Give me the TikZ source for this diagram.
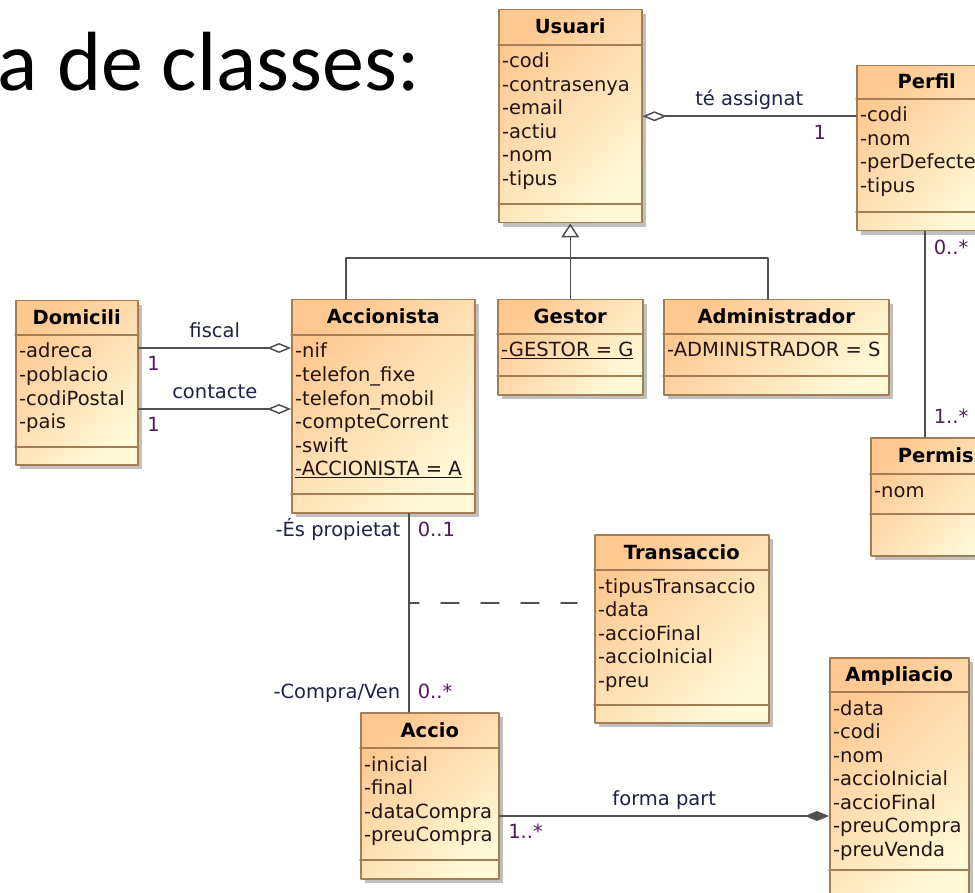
\documentclass[tikz,border=0pt]{standalone}
\usepackage{fontspec}
\setmainfont{DejaVu Sans}
\newfontfamily\slidefont{Carlito}
\usepackage{tikz}
\usetikzlibrary{arrows.meta, calc, shadows}
\definecolor{classorange}{RGB}{255,200,145}
\definecolor{classcream}{RGB}{255,249,215}
\definecolor{classbrown}{RGB}{165,125,85}
\definecolor{linegray}{RGB}{80,80,80}
\definecolor{labelnavy}{RGB}{30,35,70}
\definecolor{multpurple}{RGB}{85,25,95}
\definecolor{attrdark}{RGB}{35,20,20}

\tikzset{
  classbox/.style={anchor=north west, draw=classbrown, line width=1.5pt,
    top color=classorange, bottom color=classcream, shading angle=45,
    drop shadow={shadow xshift=4pt, shadow yshift=-4pt, fill=black!25, opacity=1}},
  classsep/.style={draw=classbrown, line width=1.5pt},
  classname/.style={anchor=base, inner sep=0pt, font=\fontsize{19.5}{23.5}\selectfont\bfseries, text=black},
  classattr/.style={anchor=base west, inner sep=0pt, font=\fontsize{19.5}{23.5}\selectfont, text=attrdark},
  assoc/.style={draw=linegray, line width=1.5pt},
  rolelabel/.style={font=\fontsize{19.5}{23.5}\selectfont, text=labelnavy, inner sep=3pt, text height=14pt, text depth=5pt},
  multlabel/.style={font=\fontsize{19.5}{23.5}\selectfont, text=multpurple, inner sep=3pt, text height=14pt, text depth=5pt},
}

% class box: name, left, top, width, height, name part, attribute part, title, attributes
\newcommand{\umlclass}[9]{%
  \node[classbox, minimum width=#4pt, minimum height=#5pt] (#1) at (#2,#3) {};
  \draw[classsep] ($(#1.north west)+(0,#6)$) -- ($(#1.north east)+(0,#6)$);
  \draw[classsep] ($(#1.north west)+(0,#7)$) -- ($(#1.north east)+(0,#7)$);
  \node[classname] (#1-name) at ($(#1.north)+(0,#6/2+7)$) {#8};
  \foreach \attr [count=\i] in {#9}
    \node[classattr] (#1-attr\i) at ($(#1.north west)+(4,#6+23.5*\i-0.5)$) {\attr};
}

\begin{document}
\begin{tikzpicture}[x=1pt, y=-1pt, line cap=round, line join=round]
	% page
	\fill[white] (0,0) rectangle (975,893);
	\useasboundingbox (0,0) rectangle (975,893);
	\clip (0,0) rectangle (975,893);

	% slide title
	\node[anchor=base east, inner sep=0pt, font=\slidefont\fontsize{84}{90}\selectfont] (slidetitle) at (420,91) {a de classes:};

	% classes
	\umlclass{usuari}{498}{9}{143}{213}{36}{195}{Usuari}{-codi, -contrasenya, -email, -actiu, -nom, -tipus}
	\umlclass{perfil}{856}{65}{140}{165}{34}{147}{Perfil}{-codi, -nom, -perDefecte, -tipus}
	\umlclass{domicili}{15}{300}{122}{164}{35}{147}{Domicili}{-adreca, -poblacio, -codiPostal, -pais}
	\umlclass{accionista}{291}{299}{183}{213}{36}{195}{Accionista}{-nif, -telefon\_fixe, -telefon\_mobil, -compteCorrent, -swift, \underline{-ACCIONISTA = A}}
	\umlclass{gestor}{497}{299}{145}{95}{35}{77}{Gestor}{\underline{-GESTOR = G}}
	\umlclass{administrador}{663}{299}{225}{95}{35}{77}{Administrador}{-ADMINISTRADOR = S}
	\umlclass{permis}{870}{437}{130}{118}{37}{77}{Permis}{-nom}
	\umlclass{transaccio}{594}{534}{174}{188}{36}{171}{Transaccio}{-tipusTransaccio, -data, -accioFinal, -accioInicial, -preu}
	\umlclass{accio}{360}{712}{138}{166}{36}{148}{Accio}{-inicial, -final, -dataCompra, -preuCompra}
	\umlclass{ampliacio}{829}{657}{139}{250}{35}{213}{Ampliacio}{-data, -codi, -nom, -accioInicial, -accioFinal, -preuCompra, -preuVenda}

	% Usuari - Perfil
	\draw[assoc, {Diamond[open, length=24pt, width=10pt]}-] (usuari.east) -- (usuari.east -| perfil.west)
		node[rolelabel, midway, above=2pt] (teassignat) {té assignat}
		node[multlabel, pos=0.83, below=6pt] (mult-perfil) {1};

	% generalization
	\coordinate (genbar) at (0,258);
	\draw[assoc, -{Triangle[open, length=14pt, width=18pt]}] (gestor.north) -- (gestor.north |- usuari.south);
	\draw[assoc] ($(accionista.north west)+(55,0)$) |- (genbar -| gestor.north) -| ($(administrador.north west)+(105,0)$);

	% Domicili - Accionista
	\coordinate (fiscal-a) at ($(domicili.north east)+(0,48)$);
	\coordinate (contacte-a) at ($(domicili.north east)+(0,109)$);
	\draw[assoc, -{Diamond[open, length=24pt, width=10pt]}] (fiscal-a) -- (fiscal-a -| accionista.west)
		node[rolelabel, midway, above=2pt] (fiscal) {fiscal}
		node[multlabel, pos=0, below right=5pt] (mult-fiscal) {1};
	\draw[assoc, -{Diamond[open, length=24pt, width=10pt]}] (contacte-a) -- (contacte-a -| accionista.west)
		node[rolelabel, midway, above=2pt] (contacte) {contacte}
		node[multlabel, pos=0, below right=5pt] (mult-contacte) {1};

	% Perfil - Permis
	\coordinate (perfil-a) at ($(perfil.south west)+(69,0)$);
	\draw[assoc] (perfil-a) -- (perfil-a |- permis.north)
		node[multlabel, pos=0, below right=5pt] (mult-perfil-b) {0..*}
		node[multlabel, pos=1, above right=5pt] (mult-permis) {1..*};

	% Accionista - Accio, with Transaccio
	\coordinate (accionista-a) at ($(accionista.south west)+(118,0)$);
	\draw[assoc] (accionista-a) -- (accionista-a |- accio.north)
		coordinate[pos=0.45] (transmid)
		node[rolelabel, pos=0, below left=5pt] (propietat) {-És propietat}
		node[multlabel, pos=0, below right=5pt] (mult-accionista) {0..1}
		node[rolelabel, pos=1, above left=5pt] (compraven) {-Compra/Ven}
		node[multlabel, pos=1, above right=5pt] (mult-accio) {0..*};
	\draw[assoc, dash pattern=on 18pt off 22pt, dash phase=8pt, shorten >=17pt] (transmid) -- (transmid -| transaccio.west);

	% Accio - Ampliacio
	\coordinate (accio-a) at ($(accio.north east)+(0,104)$);
	\draw[assoc, -{Diamond[length=24pt, width=10pt]}] (accio-a) -- (accio-a -| ampliacio.west)
		node[rolelabel, midway, above=2pt] (formapart) {forma part}
		node[multlabel, pos=0, below right=5pt] (mult-forma) {1..*};
\end{tikzpicture}
\end{document}
